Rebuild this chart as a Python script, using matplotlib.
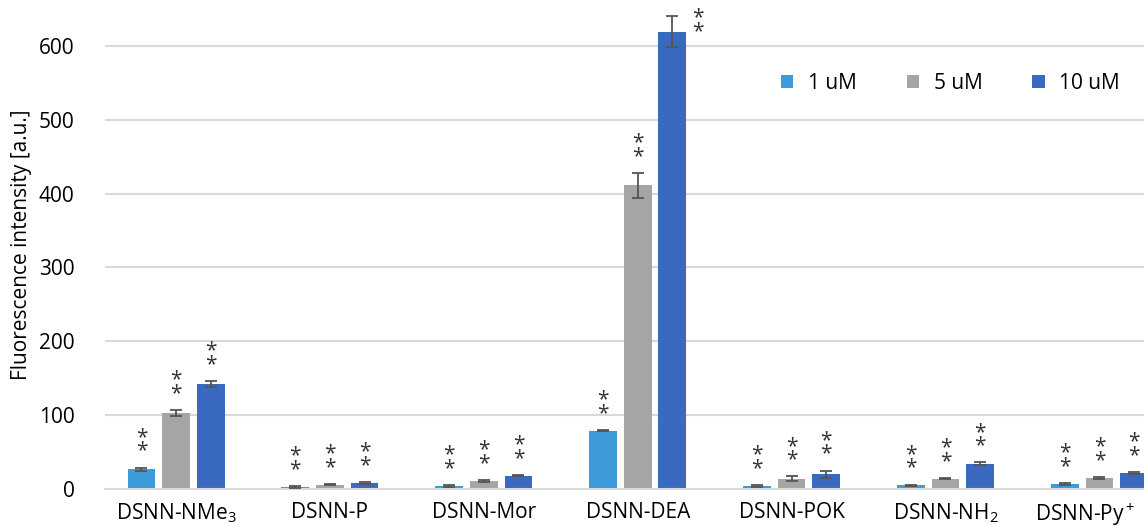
import numpy as np
import matplotlib.pyplot as plt
import matplotlib.transforms as mtransforms

plt.rcParams['font.family'] = ['Open Sans', 'DejaVu Sans']
plt.rcParams['mathtext.fontset'] = 'custom'
plt.rcParams['mathtext.rm'] = 'Open Sans'

# compounds on the x axis
categories = ['DSNN-NMe$_3$', 'DSNN-P', 'DSNN-Mor', 'DSNN-DEA',
              'DSNN-POK', 'DSNN-NH$_2$', 'DSNN-Py$^+$']
series_names = ['1 uM', '5 uM', '10 uM']

# fluorescence intensity [a.u.]
vals_1uM = [27, 3, 4, 79, 4, 5, 7]
vals_5uM = [103, 6, 11, 411, 14, 14, 15]
vals_10uM = [142, 8, 18, 619, 20, 34, 22]
err_1uM = [2, 1, 1, 1, 1, 1, 1]
err_5uM = [4, 1, 1, 17, 3, 1, 1]
err_10uM = [4, 1, 1, 21, 5, 2, 1]

colors = ['#3E9BD9', '#A5A5A5', '#3A6AC0']

fig = plt.figure(figsize=(11.44, 5.26), dpi=100)
ax = fig.add_axes([0.092, 0.0703, 0.908, 0.9297])

x = np.arange(len(categories))
width = 0.18
offset = 0.225
all_vals = [vals_1uM, vals_5uM, vals_10uM]
all_errs = [err_1uM, err_5uM, err_10uM]

for i, (v, e) in enumerate(zip(all_vals, all_errs)):
    pos = x + (i - 1) * offset
    ax.bar(pos, v, width, color=colors[i], label=series_names[i], zorder=2)
    ax.errorbar(pos, v, yerr=e, fmt='none', ecolor='#555555', elinewidth=1.3,
                capsize=4, capthick=1.3, zorder=3)
    # significance marks
    for j in range(len(x)):
        top = v[j] + e[j]
        if top > 600:
            ax.text(pos[j] + width / 2 + 0.04, top - 12, '*\n*', ha='left', va='center',
                    fontsize=15, linespacing=0.55, color='#333333')
        else:
            ax.text(pos[j], top + 8, '*\n*', ha='center', va='bottom',
                    fontsize=15, linespacing=0.55, color='#333333')

ax.set_xlim(-0.46, 6.29)
ax.set_ylim(0, 662)
ax.set_yticks(np.arange(0, 700, 100))
ax.yaxis.grid(True, color='#D9D9D9', linewidth=1.5, zorder=0)
ax.set_axisbelow(True)
for s in ['top', 'right', 'left']:
    ax.spines[s].set_visible(False)
ax.spines['bottom'].set_color('#D9D9D9')
ax.spines['bottom'].set_linewidth(1.5)
ax.tick_params(axis='y', length=0, labelsize=15, pad=22)
ax.tick_params(axis='x', length=0, labelsize=15, pad=9)
ax.set_xticks(x)
ax.set_xticklabels(categories)
# last label sits a bit left so it stays inside the picture
last = ax.get_xticklabels()[-1]
last.set_transform(last.get_transform() + mtransforms.ScaledTranslation(-0.14, 0, fig.dpi_scale_trans))
ax.set_ylabel('Fluorescence intensity [a.u.]', fontsize=15, labelpad=5)

ax.legend(loc='center right', bbox_to_anchor=(0.995, 0.83), ncol=3, frameon=False,
          fontsize=15, handlelength=0.6, handleheight=0.6, columnspacing=2.4,
          handletextpad=0.7)

fig.savefig('out.png', dpi=100)
